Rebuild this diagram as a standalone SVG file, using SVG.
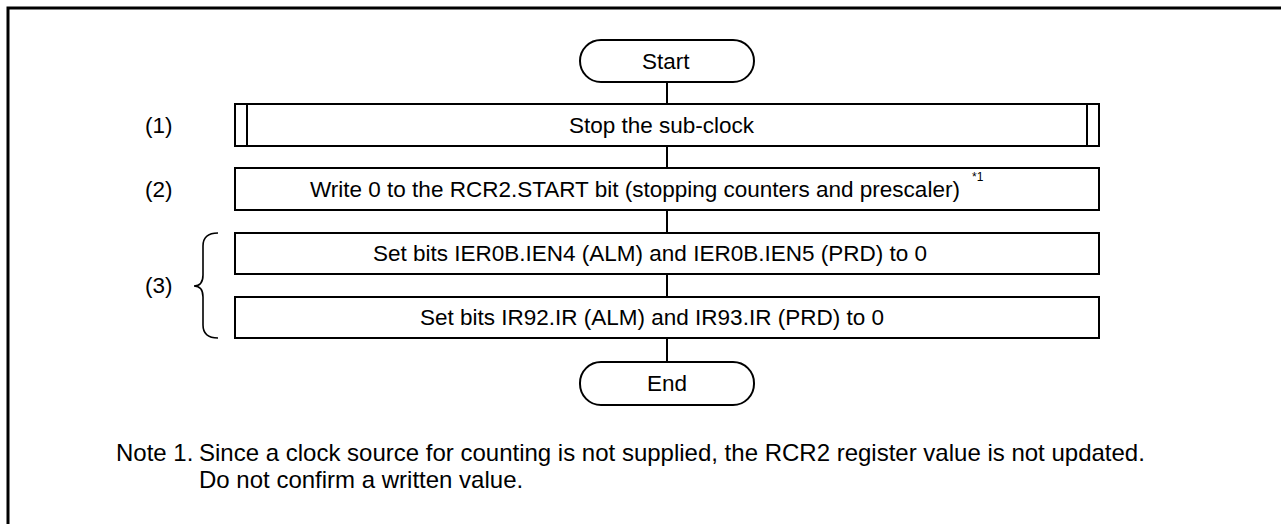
<svg xmlns="http://www.w3.org/2000/svg" width="1281" height="524" viewBox="0 0 1281 524">
<style>
text{font-family:"Liberation Sans",Arial,sans-serif;font-size:22.5px;fill:#000}
.b{fill:#fff;stroke:#000;stroke-width:2}
.c{stroke:#000;stroke-width:2;fill:none}
.sup{font-size:12px}
.n{font-size:24px}
</style>
<rect width="1281" height="524" fill="#fff"/>
<path d="M8,524 V8 H1281" fill="none" stroke="#000" stroke-width="3"/>
<g id="connectors">
<line class="c" x1="667" y1="82" x2="667" y2="104"/>
<line class="c" x1="667" y1="146" x2="667" y2="168"/>
<line class="c" x1="667" y1="210" x2="667" y2="233"/>
<line class="c" x1="667" y1="274" x2="667" y2="297"/>
<line class="c" x1="667" y1="338" x2="667" y2="362"/>
</g>
<g id="start">
<rect class="b" x="580" y="40" width="174" height="42" rx="21"/>
<text x="642" y="69">Start</text>
</g>
<g id="step1">
<rect class="b" x="235" y="104" width="864" height="42"/>
<line class="c" x1="247" y1="104" x2="247" y2="146"/>
<line class="c" x1="1087" y1="104" x2="1087" y2="146"/>
<text x="569" y="133">Stop the sub-clock</text>
</g>
<g id="step2">
<rect class="b" x="235" y="168" width="864" height="42"/>
<text x="310" y="197">Write 0 to the RCR2.START bit (stopping counters and prescaler)</text>
<text class="sup" x="972" y="181">*1</text>
</g>
<g id="step3a">
<rect class="b" x="235" y="233" width="864" height="41"/>
<text x="373" y="261">Set bits IER0B.IEN4 (ALM) and IER0B.IEN5 (PRD) to 0</text>
</g>
<g id="step3b">
<rect class="b" x="235" y="297" width="864" height="41"/>
<text x="420" y="325">Set bits IR92.IR (ALM) and IR93.IR (PRD) to 0</text>
</g>
<g id="end">
<rect class="b" x="580" y="362" width="174" height="43" rx="21"/>
<text x="647" y="391">End</text>
</g>
<g id="labels">
<text x="145" y="133">(1)</text>
<text x="145" y="197">(2)</text>
<text x="145" y="293">(3)</text>
<path d="M218,233 Q203,233 203,246 L203,275 Q203,286 194,286 Q203,286 203,297 L203,325 Q203,338 218,338" fill="none" stroke="#000" stroke-width="1.6"/>
</g>
<g id="note">
<text class="n" x="116" y="461">Note 1.</text>
<text class="n" x="199" y="461">Since a clock source for counting is not supplied, the RCR2 register value is not updated.</text>
<text class="n" x="199" y="488">Do not confirm a written value.</text>
</g>
</svg>
